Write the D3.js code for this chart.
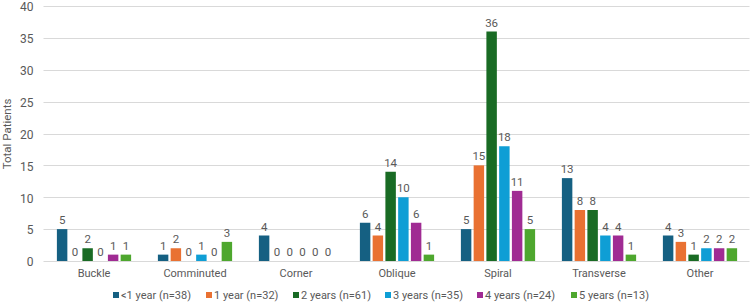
<!DOCTYPE html>
<html><head><meta charset="utf-8">
<script src="https://cdn.jsdelivr.net/npm/d3@7"></script>
<style>body{margin:0;background:#fff}svg{display:block}text{font-family:Roboto,"Liberation Sans",sans-serif;fill:#595959}</style>
</head><body><svg id="c" width="750" height="303"></svg>
<script>
const categories = ["Buckle","Comminuted","Corner","Oblique","Spiral","Transverse","Other"];
const seriesNames = ["<1 year (n=38)","1 year (n=32)","2 years (n=61)","3 years (n=35)","4 years (n=24)","5 years (n=13)"];
const lt1 = [5,1,4,6,5,13,4];
const y1 = [0,2,0,4,15,8,3];
const y2 = [2,0,0,14,36,8,1];
const y3 = [0,1,0,10,18,4,2];
const y4 = [1,0,0,6,11,4,2];
const y5 = [1,3,0,1,5,1,2];
const seriesValues = [lt1,y1,y2,y3,y4,y5];
const colors = ["#156082","#E97132","#196B24","#0F9ED5","#A02B93","#4EA72E"];
const yTicks = [0,5,10,15,20,25,30,35,40];

const svg = d3.select("#c");
const pLeft = 43.5, pRight = 750.5, pTop = 6, pBottom = 261;
const x = d3.scaleBand().domain(categories).range([pLeft,pRight]).paddingInner(0).paddingOuter(0);
const xs = d3.scaleBand().domain(seriesNames).range([0,x.bandwidth()]).paddingInner(0.18).paddingOuter(1.05);
const y = d3.scaleLinear().domain([0,40]).range([pBottom,pTop]);

// grid
svg.append("g").selectAll("line").data(yTicks).join("line")
  .attr("x1",pLeft).attr("x2",pRight-1).attr("y1",d=>Math.round(y(d))+0.5).attr("y2",d=>Math.round(y(d))+0.5)
  .attr("stroke","#d9d9d9").attr("stroke-width",1);

// y axis labels
const yAxis = d3.axisLeft(y).tickValues(yTicks).tickSize(0).tickPadding(0);
const ga = svg.append("g").attr("transform",`translate(${pLeft-10},0)`).call(yAxis);
ga.select(".domain").remove();
ga.selectAll("text").style("font-size","12px").style("font-family","Roboto,sans-serif").attr("text-anchor","end").attr("fill","#595959").attr("dy","0.4em");

// x axis labels
const xAxis = d3.axisBottom(x).tickSize(0).tickPadding(0);
const gx = svg.append("g").attr("transform",`translate(0,${pBottom+8})`).call(xAxis);
gx.select(".domain").remove();
gx.selectAll("text").style("font-size","11px").style("font-family","Roboto,sans-serif").attr("fill","#595959");

// bars
const groups = svg.append("g").selectAll("g").data(categories).join("g")
  .attr("transform",d=>`translate(${x(d)},0)`);
seriesNames.forEach((s,si)=>{
  groups.append("rect")
    .attr("x",xs(s)).attr("width",xs.bandwidth())
    .attr("y",(d,ci)=>y(seriesValues[si][ci]))
    .attr("height",(d,ci)=>pBottom-y(seriesValues[si][ci]))
    .attr("fill",colors[si]);
  groups.append("text")
    .attr("x",xs(s)+xs.bandwidth()/2)
    .attr("y",(d,ci)=>y(seriesValues[si][ci])-5)
    .attr("text-anchor","middle").style("font-size","11.5px")
    .text((d,ci)=>seriesValues[si][ci]);
});

// y title
svg.append("text").attr("transform","translate(11,134) rotate(-90)")
  .attr("text-anchor","middle").style("font-size","11.5px").text("Total Patients");

// legend
const legX = [113,206,293,385,477,571];
const lg = svg.append("g").selectAll("g").data(seriesNames).join("g")
  .attr("transform",(d,i)=>`translate(${legX[i]},292)`);
lg.append("rect").attr("width",6).attr("height",6).attr("y",0).attr("fill",(d,i)=>colors[i]);
lg.append("text").attr("x",8).attr("y",7).style("font-size","11px").text(d=>d);
</script></body></html>
